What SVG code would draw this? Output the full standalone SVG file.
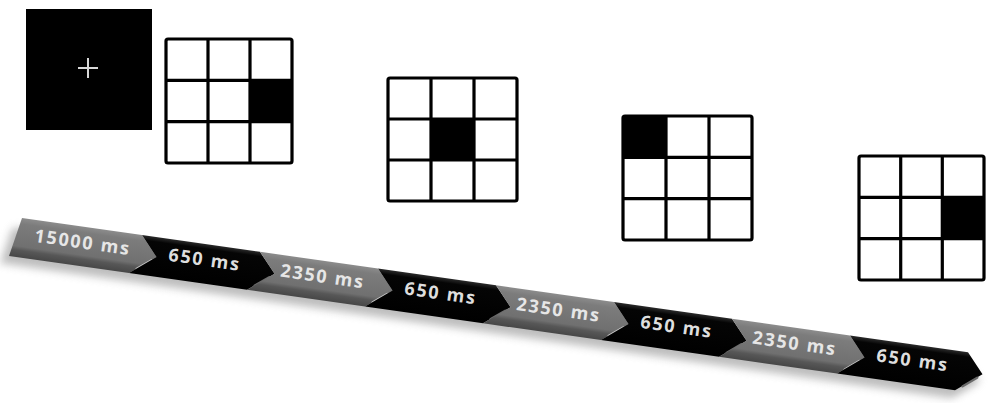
<svg xmlns="http://www.w3.org/2000/svg" width="989" height="403" viewBox="0 0 989 403">
<style>
.grid{fill:none;stroke:#000;stroke-width:3.2;stroke-linejoin:round}
.cell{fill:#fff}
.on{fill:#000}
.lbl{font-family:"Open Sans","DejaVu Sans",sans-serif;font-weight:700;font-size:18px;letter-spacing:1.8px;text-anchor:middle}
.lg{fill:#e6e6e6}
.lb{fill:#dedede}
.gl{stroke-width:2.5;stroke-linecap:round}
</style>
<defs>
<linearGradient id="gGray" x1="0" y1="0" x2="0" y2="38" gradientUnits="userSpaceOnUse">
<stop offset="0" stop-color="#8c8c8c"/>
<stop offset="0.15" stop-color="#7c7c7c"/>
<stop offset="0.72" stop-color="#707070"/>
<stop offset="0.82" stop-color="#575757"/>
<stop offset="1" stop-color="#474747"/>
</linearGradient>
<linearGradient id="gBlack" x1="0" y1="0" x2="0" y2="38" gradientUnits="userSpaceOnUse">
<stop offset="0" stop-color="#2a2a2a"/>
<stop offset="0.12" stop-color="#050505"/>
<stop offset="1" stop-color="#000"/>
</linearGradient>
<filter id="blur" x="-10%" y="-50%" width="120%" height="200%">
<feGaussianBlur stdDeviation="4"/>
</filter>
</defs>
<rect width="989" height="403" fill="#fff"/>

<g id="fixation">
<rect x="26" y="9" width="126" height="121" fill="#000"/>
<path d="M78 68H98M88 58V78" stroke="#d8d8d8" stroke-width="2"/>
</g>

<g id="grid1" transform="translate(166,39)">
<rect class="cell" width="126" height="124"/>
<rect class="on" x="84" y="41.3" width="42" height="41.3"/>
<rect class="grid" width="126" height="124" rx="2"/>
<path class="grid" d="M42 0V124M84 0V124M0 41.3H126M0 82.7H126"/>
</g>

<g id="grid2" transform="translate(388,78)">
<rect class="cell" width="129" height="123"/>
<rect class="on" x="43" y="41" width="43" height="41"/>
<rect class="grid" width="129" height="123" rx="2"/>
<path class="grid" d="M43 0V123M86 0V123M0 41H129M0 82H129"/>
</g>

<g id="grid3" transform="translate(623,116)">
<rect class="cell" width="129" height="124"/>
<rect class="on" x="0" y="0" width="43" height="41.3"/>
<rect class="grid" width="129" height="124" rx="2"/>
<path class="grid" d="M43 0V124M86 0V124M0 41.3H129M0 82.7H129"/>
</g>

<g id="grid4" transform="translate(859,156)">
<rect class="cell" width="125" height="124"/>
<rect class="on" x="83.3" y="41.3" width="41.7" height="41.3"/>
<rect class="grid" width="125" height="124" rx="2"/>
<path class="grid" d="M41.7 0V124M83.3 0V124M0 41.3H125M0 82.7H125"/>
</g>

<g id="timeline">
<g transform="matrix(1 0.142 -0.342 1 22 218)">
<polygon points="-6,10 946,10 967,27 946,46 -6,46" fill="#9a9a9a" opacity="0.65" filter="url(#blur)"/>
<g id="seg1"><polygon points="0,0 120,0 141,19 120,38 0,38" fill="url(#gGray)"/><line class="gl" x1="137" y1="23" x2="126" y2="33" stroke="#c8c8c8"/></g>
<g id="seg2"><polygon points="120,0 238,0 259,19 238,38 120,38 141,19" fill="url(#gBlack)"/><line class="gl" x1="255" y1="23" x2="244" y2="33" stroke="#6a6a6a"/></g>
<g id="seg3"><polygon points="238,0 356,0 377,19 356,38 238,38 259,19" fill="url(#gGray)"/><line class="gl" x1="373" y1="23" x2="362" y2="33" stroke="#c8c8c8"/></g>
<g id="seg4"><polygon points="356,0 474,0 495,19 474,38 356,38 377,19" fill="url(#gBlack)"/><line class="gl" x1="491" y1="23" x2="480" y2="33" stroke="#6a6a6a"/></g>
<g id="seg5"><polygon points="474,0 592,0 613,19 592,38 474,38 495,19" fill="url(#gGray)"/><line class="gl" x1="609" y1="23" x2="598" y2="33" stroke="#c8c8c8"/></g>
<g id="seg6"><polygon points="592,0 710,0 731,19 710,38 592,38 613,19" fill="url(#gBlack)"/><line class="gl" x1="727" y1="23" x2="716" y2="33" stroke="#6a6a6a"/></g>
<g id="seg7"><polygon points="710,0 828,0 849,19 828,38 710,38 731,19" fill="url(#gGray)"/><line class="gl" x1="845" y1="23" x2="834" y2="33" stroke="#c8c8c8"/></g>
<g id="seg8"><polygon points="828,0 946,0 967,19 946,38 828,38 849,19" fill="url(#gBlack)"/><line class="gl" x1="963" y1="23" x2="952" y2="33" stroke="#6a6a6a"/></g>
</g>
<text class="lbl lg" transform="translate(81.8,248.5) rotate(8.1)">15000 ms</text>
<text class="lbl lb" transform="translate(203.8,265.8) rotate(8.1)">650 ms</text>
<text class="lbl lg" transform="translate(321.8,282.6) rotate(8.1)">2350 ms</text>
<text class="lbl lb" transform="translate(439.8,299.4) rotate(8.1)">650 ms</text>
<text class="lbl lg" transform="translate(557.8,316.1) rotate(8.1)">2350 ms</text>
<text class="lbl lb" transform="translate(675.8,332.9) rotate(8.1)">650 ms</text>
<text class="lbl lg" transform="translate(793.8,349.6) rotate(8.1)">2350 ms</text>
<text class="lbl lb" transform="translate(911.8,366.4) rotate(8.1)">650 ms</text>
</g>
</svg>
